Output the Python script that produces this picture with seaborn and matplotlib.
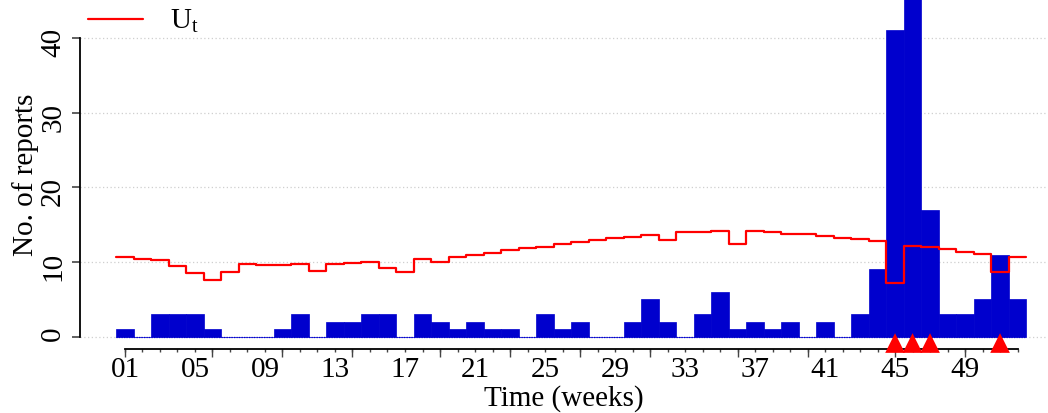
import numpy as np
import pandas as pd
import matplotlib
matplotlib.use("Agg")
import matplotlib.pyplot as plt
from matplotlib.ticker import FixedLocator, FixedFormatter, NullFormatter
import seaborn as sns

# Weekly report counts and the upper bound U_t
weeks = list(range(1, 53))
reports = [1, 0, 3, 3, 3, 1, 0, 0, 0, 1, 3, 0, 2, 2, 3, 3, 0, 3, 2, 1,
           2, 1, 1, 0, 3, 1, 2, 0, 0, 2, 5, 2, 0, 3, 6, 1, 2, 1, 2, 0,
           2, 0, 3, 9, 41, 47, 17, 3, 3, 5, 11, 5]
upper = [10.6, 10.4, 10.2, 9.4, 8.5, 7.6, 8.7, 9.7, 9.65, 9.65, 9.7, 8.75, 9.75, 9.85,
         10.0, 9.25, 8.65, 10.35, 9.95, 10.65, 10.95, 11.25, 11.55, 11.85, 12.05, 12.35,
         12.65, 12.95, 13.15, 13.4, 13.6, 12.9, 13.95, 14.05, 14.15, 12.45, 14.1, 14.0,
         13.8, 13.7, 13.5, 13.25, 13.05, 12.75, 7.2, 12.2, 12.0, 11.7, 11.4, 11.05,
         8.6, 10.6]
alarm_weeks = [45, 46, 47, 51]

# Axis labelling: tick labels every fourth week, long ticks at month starts
label_weeks = list(range(1, 53, 4))
label_text = [f"{w:02d}" for w in label_weeks]
month_weeks = [1, 6, 10, 14, 19, 23, 27, 31, 36, 40, 45, 49]

bar_blue = "#0000CD"
red = "#FF0000"

sns.set_style("white")
plt.rcParams["font.family"] = ["Liberation Serif", "DejaVu Serif"]
plt.rcParams["mathtext.fontset"] = "custom"
plt.rcParams["mathtext.rm"] = "Liberation Serif"
plt.rcParams["mathtext.it"] = "Liberation Serif:italic"
for key in ["text.color", "axes.labelcolor", "xtick.color", "ytick.color"]:
    plt.rcParams[key] = "black"
FS = 21

fig = plt.figure(figsize=(10.48, 4.13), dpi=100)
ax = fig.add_axes([80 / 1048, 64 / 413, 968 / 1048, 349 / 413])

df = pd.DataFrame({"week": weeks, "reports": reports})
sns.barplot(data=df, x="week", y="reports", native_scale=True, width=1.0,
            color=bar_blue, saturation=1, edgecolor=bar_blue, linewidth=0.5,
            errorbar=None, orient="x", ax=ax, zorder=3)

# zero baseline for the observed series
ax.plot([weeks[0] - 0.5, weeks[-1] + 0.5], [0, 0], color=bar_blue,
        linestyle=(0, (1, 1)), linewidth=0.9, zorder=2)

# upper bound as a step function over whole weeks
edges = [w - 0.5 for w in weeks] + [weeks[-1] + 0.5]
ub = pd.DataFrame({"x": edges, "U": upper + [upper[-1]]})
sns.lineplot(data=ub, x="x", y="U", drawstyle="steps-post", color=red,
             linewidth=1.6, ax=ax, zorder=4, label=r"U$_{\mathrm{t}}$")

# alarm markers
sns.scatterplot(x=alarm_weeks, y=[-0.85] * len(alarm_weeks), marker="^",
                s=200, color=red, edgecolor="none", ax=ax, zorder=5,
                clip_on=False, legend=False)

ax.set_xlim(-1.57, 53.74)
ax.set_ylim(-1.65, 45.07)

# grid
for yv in [0, 10, 20, 30, 40]:
    ax.axhline(yv, color="#cfcfcf", linestyle=(0, (1, 2)), linewidth=0.9, zorder=1)

for side in ["top", "right"]:
    ax.spines[side].set_visible(False)
ax.spines["left"].set_bounds(0, 40)
ax.spines["bottom"].set_bounds(weeks[0], weeks[-1])
for side in ["left", "bottom"]:
    ax.spines[side].set_linewidth(1.3)
    ax.spines[side].set_color("black")

ax.set_yticks([0, 10, 20, 30, 40])
ax.tick_params(axis="y", direction="out", length=6, width=1.2, color="#444444",
               labelsize=FS, labelrotation=90, pad=4, left=True)

ax.xaxis.remove_overlapping_locs = False
ax.xaxis.set_major_locator(FixedLocator(month_weeks))
ax.xaxis.set_major_formatter(NullFormatter())
ax.xaxis.set_minor_locator(FixedLocator(weeks))
ax.xaxis.set_minor_formatter(FixedFormatter(
    [label_text[label_weeks.index(w)] if w in label_weeks else "" for w in weeks]))
ax.tick_params(axis="x", which="major", direction="out", length=6, width=1.0,
               color="#444444", bottom=True)
ax.tick_params(axis="x", which="minor", direction="out", length=2.5, width=1.0,
               color="#444444", labelsize=FS, pad=3, bottom=True)

ax.set_xlabel("Time (weeks)", fontsize=FS, labelpad=0)
ax.set_ylabel("No. of reports", fontsize=FS)
ax.yaxis.set_label_coords(-0.042, 0.5)
ax.xaxis.set_label_coords(0.5, -0.103)

ax.legend(loc="upper left", bbox_to_anchor=(88 / 1048, 1 - 8 / 413),
          bbox_transform=fig.transFigure, frameon=False, fontsize=FS,
          handlelength=1.9, handletextpad=0.9, borderpad=0, borderaxespad=0)

fig.savefig("out.png", dpi=100)
